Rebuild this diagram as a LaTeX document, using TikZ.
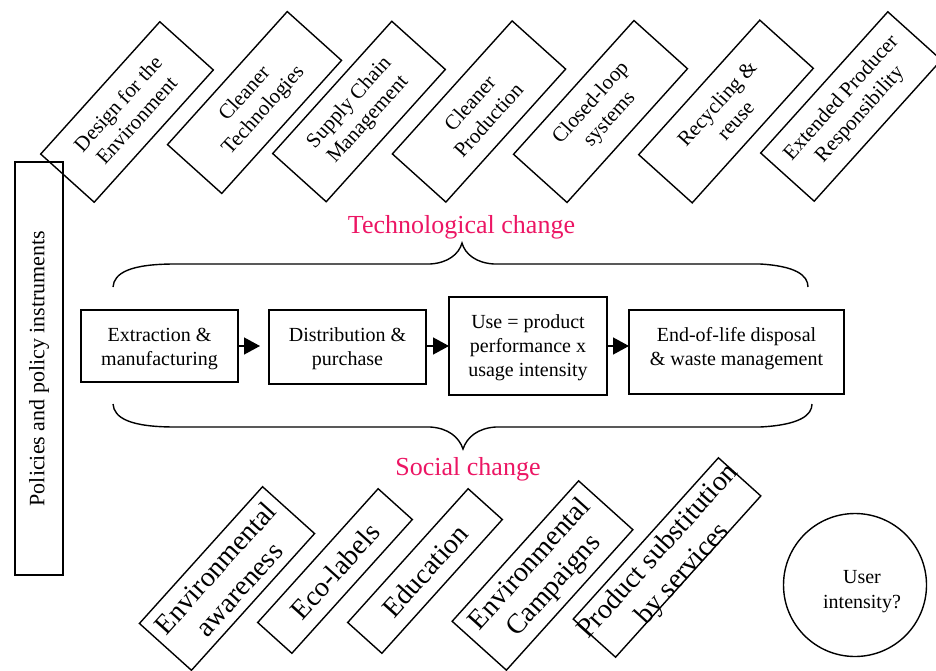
\documentclass[tikz,border=0pt]{standalone}
\usepackage{fontspec}
\setmainfont{Liberation Serif}
\usetikzlibrary{arrows.meta}
\definecolor{changered}{RGB}{236,22,100}
\begin{document}
\begin{tikzpicture}[x=1pt,y=-1pt,
  every node/.style={inner sep=0pt, outer sep=0pt},
  stroke/.style={line width=1.4pt},
  tilted/.style={draw, stroke, rotate=48, align=center, font=\fontsize{21}{25}\selectfont},
  socialbox/.style={tilted, font=\fontsize{28}{32}\selectfont},
  stage/.style={draw, stroke, minimum width=157, minimum height=72},
  stagetext/.style={align=center, font=\fontsize{20}{24}\selectfont},
  flow/.style={stroke, -{Triangle[length=16pt,width=17pt]}},
  heading/.style={text=changered, font=\fontsize{26}{30}\selectfont, anchor=base},
]
\useasboundingbox (0,0) rectangle (936,671);

% policy column
\node[draw, stroke, rotate=90, minimum width=413, minimum height=48,
      font=\fontsize{22}{26}\selectfont] (policy) at (39,368.5)
      {Policies and policy instruments};

% technological measures
\node[tilted, minimum width=178, minimum height=72] (dfe) at (127,112) {Design for the\\Environment};
\node[tilted, minimum width=179, minimum height=73] (ct)  at (254.5,102.5) {Cleaner\\Technologies};
\node[tilted, minimum width=178, minimum height=72] (scm) at (359,111.5) {Supply Chain\\Management};
\node[tilted, minimum width=179, minimum height=72] (cp)  at (479,111.5) {Cleaner\\Production};
\node[tilted, minimum width=180, minimum height=72] (cls) at (600.5,111.5) {Closed-loop\\systems};
\node[tilted, minimum width=181, minimum height=72] (rr)  at (726,111.5) {Recycling \&\\reuse};
\node[tilted, minimum width=190, minimum height=72] (epr) at (851,106.5) {Extended Producer\\Responsibility};

\node[heading] (tech) at (461.5,233) {Technological change};

% upper brace
\draw[stroke] (113,287) .. controls (114,273) and (130,264) .. (175,264) -- (430,264)
  .. controls (448,263) and (459,254) .. (462,243)
  .. controls (465,254) and (476,263) .. (494,264) -- (760,264)
  .. controls (795,266) and (808,275) .. (808,287);

% life-cycle chain: frames first, then their captions
\node[stage] (extr) at (159.5,346) {};
\node[stage, minimum height=74] (dist) at (347.5,347) {};
\node[stage, minimum width=158, minimum height=98] (use) at (528,346) {};
\node[stage, minimum width=215, minimum height=84] (eol) at (736.5,352) {};
\node[stagetext] (extrtext) at (159.5,349) {Extraction \&\\manufacturing};
\node[stagetext] (disttext) at (347.5,349) {Distribution \&\\purchase};
\node[stagetext] (usetext)  at (528,348) {Use = product\\performance x\\usage intensity};
\node[stagetext] (eoltext)  at (736.5,349) {End-of-life disposal\\\& waste management};

\draw[flow, shorten >=9pt] (extr.east) -- (extr.east -| dist.west);
\draw[flow] (dist.east |- use.west) -- (use.west);
\draw[flow] (use.east) -- (use.east -| eol.west);

% lower brace
\draw[stroke] (113,404) .. controls (114,418) and (130,427) .. (175,427) -- (430,427)
  .. controls (448,428) and (459,437) .. (463,449)
  .. controls (467,437) and (478,428) .. (496,427) -- (760,427)
  .. controls (800,425) and (812,415) .. (812,404);

\node[heading] (social) at (468,475) {Social change};

% social measures
\node[socialbox, minimum width=184, minimum height=70] (aware) at (227,578.5) {Environmental\\awareness};
\node[socialbox, minimum width=180, minimum height=46] (eco)   at (335,571) {Eco-labels};
\node[socialbox, minimum width=180, minimum height=46] (edu)   at (425,571) {Education};
\node[socialbox, minimum width=189, minimum height=73] (camp)  at (542.5,575.5) {Environmental\\Campaigns};
\node[socialbox, minimum width=217, minimum height=57] (subst) at (667,557.5) {};
\node[rotate=48, align=center, font=\fontsize{28}{33}\selectfont] (substtext) at (671,563)
  {Product substitution\\by services};

% user intensity
\node[draw, stroke, circle, minimum size=143] (user) at (855,585) {};
\node[align=center, font=\fontsize{20}{25}\selectfont] (usertext) at (862,592) {User\\intensity?};
\end{tikzpicture}
\end{document}
